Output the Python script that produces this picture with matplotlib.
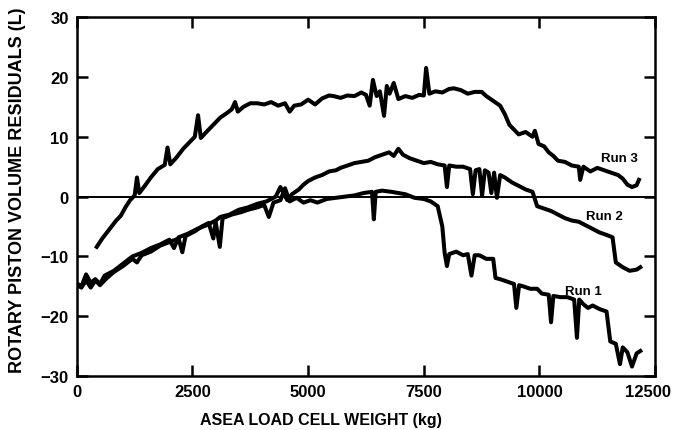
import numpy as np
import matplotlib.pyplot as plt
import matplotlib.transforms as mtransforms

plt.rcParams['font.family'] = ['Liberation Sans', 'DejaVu Sans']
plt.rcParams['font.weight'] = 'bold'

# Run 3 (kg, L)
run3_x = [430, 550, 700, 850, 950, 1050, 1150, 1250, 1300, 1350, 1450, 1600, 1750, 1900, 1960, 2020,
          2150, 2300, 2450, 2550, 2620, 2680, 2800, 2950, 3100, 3250, 3350, 3420, 3480, 3600, 3750,
          3900, 4050, 4200, 4350, 4500, 4600, 4700, 4850, 5000, 5150, 5300, 5450, 5550, 5700, 5850,
          6000, 6150, 6250, 6330, 6400, 6480, 6550, 6640, 6700, 6760, 6850, 6950, 7100, 7250, 7400,
          7500, 7550, 7620, 7750, 7900, 8050, 8150, 8300, 8450, 8600, 8750, 8850, 9000, 9150, 9250,
          9350, 9450, 9550, 9700, 9850, 9900, 9980, 10100, 10200, 10300, 10400, 10550, 10700, 10850,
          10880, 10950, 11100, 11250, 11400, 11550, 11700, 11800, 11900, 12000, 12100, 12150]
run3_y = [-8.4, -7.0, -5.5, -4.0, -3.2, -1.8, -0.6, 0.2, 3.2, 0.6, 1.6, 3.2, 4.6, 5.3, 8.2, 5.4,
          6.5, 8.0, 9.2, 10.0, 13.6, 9.8, 10.8, 12.0, 13.2, 14.0, 14.6, 15.8, 14.2, 15.0, 15.6,
          15.6, 15.4, 15.8, 15.2, 15.6, 14.2, 15.2, 15.4, 16.2, 15.4, 16.4, 16.9, 16.8, 16.5, 16.9,
          16.8, 17.4, 17.0, 15.2, 19.5, 16.8, 17.6, 13.5, 18.5, 17.2, 19.0, 16.3, 16.8, 16.5, 17.0,
          16.9, 21.5, 17.2, 17.6, 17.4, 18.0, 18.1, 17.8, 17.2, 17.5, 17.5, 16.8, 16.0, 15.2, 13.8,
          12.0, 11.2, 10.4, 10.8, 10.0, 11.0, 8.8, 8.4, 7.4, 6.8, 6.0, 5.8, 5.2, 5.0,
          2.8, 5.0, 4.2, 4.8, 4.4, 4.0, 3.6, 3.0, 2.0, 1.6, 1.9, 2.8]

# Run 2
run2_x = [0, 100, 200, 300, 400, 500, 600, 800, 1000, 1200, 1400, 1600, 1800, 2000, 2100, 2200,
          2400, 2600, 2800, 3000, 3100, 3300, 3500, 3700, 3900, 4100, 4300, 4400, 4550, 4650, 4800,
          4900, 5000, 5150, 5300, 5450, 5600, 5700, 5850, 6000, 6150, 6300, 6450, 6600, 6750, 6850,
          6950, 7050, 7200, 7350, 7500, 7650, 7800, 7950, 8000, 8050, 8200, 8350, 8500, 8560, 8620,
          8700, 8760, 8820, 8900, 8960, 9020, 9080, 9150, 9250, 9400, 9550, 9700, 9850, 9950, 10100,
          10250, 10400, 10550, 10700, 10850, 11000, 11150, 11300, 11450, 11580, 11650, 11800, 11950,
          12100, 12180]
run2_y = [-14.5, -15.0, -13.0, -14.4, -13.8, -14.6, -13.2, -12.4, -11.2, -10.0, -9.4, -8.6, -8.0, -7.2, -8.6, -6.8,
          -6.2, -5.4, -4.8, -4.0, -3.4, -3.0, -2.2, -1.8, -1.2, -0.8, 0.0, 1.6, -0.6, 0.4, 1.2,
          2.0, 2.6, 3.2, 3.6, 4.2, 4.4, 4.8, 5.2, 5.6, 5.8, 6.0, 6.6, 7.0, 7.4, 6.8,
          8.0, 7.0, 6.4, 6.0, 5.6, 5.8, 5.4, 5.2, 1.6, 5.2, 5.0, 5.0, 4.6, 0.4, 4.4,
          4.6, 0.2, 4.4, 4.0, 0.6, 4.0, -0.2, 3.6, 3.2, 2.4, 1.8, 1.2, 0.8, -1.6, -2.0,
          -2.4, -3.0, -3.6, -4.0, -4.2, -4.8, -5.4, -6.0, -6.4, -6.8, -11.0, -11.8, -12.4,
          -12.2, -11.8]

# Run 1
run1_x = [0, 100, 200, 300, 400, 500, 650, 800, 1000, 1200, 1300, 1400, 1600, 1800, 2000, 2200,
          2280, 2350, 2550, 2700, 2850, 2950, 3000, 3090, 3150, 3350, 3550, 3700, 3900, 4050, 4150,
          4250, 4400, 4500, 4600, 4750, 4900, 5050, 5200, 5400, 5600, 5800, 6000, 6200, 6380, 6420,
          6460, 6600, 6800, 6950, 7100, 7300, 7500, 7650, 7800, 7900, 7950, 8000, 8050, 8200, 8350,
          8450, 8530, 8600, 8700, 8850, 9000, 9050, 9150, 9300, 9450, 9500, 9560, 9650, 9800, 9950,
          10050, 10200, 10250, 10300, 10450, 10600, 10750, 10810, 10860, 10950, 11050, 11150, 11300,
          11450, 11530, 11650, 11740, 11800, 11900, 12000, 12100, 12180]
run1_y = [-14.8, -15.2, -14.0, -15.2, -14.0, -14.8, -13.6, -12.6, -11.6, -10.4, -11.0, -9.8, -9.2, -8.2, -7.6, -7.0,
          -9.3, -6.6, -5.8, -5.0, -4.4, -7.0, -4.2, -8.4, -3.6, -3.0, -2.6, -2.2, -1.8, -1.4, -3.4,
          -1.0, -0.6, 1.4, -0.8, -0.2, -1.0, -0.6, -1.0, -0.4, -0.2, 0.0, 0.2, 0.6, 0.8, -3.8,
          0.8, 1.0, 0.8, 0.6, 0.4, -0.2, -0.4, -0.8, -1.6, -5.0, -9.4, -11.6, -9.6, -9.2, -9.8,
          -9.6, -13.2, -9.8, -9.8, -10.4, -10.4, -13.6, -13.8, -14.2, -14.6, -18.6, -14.8, -15.0, -15.4, -15.4,
          -16.2, -16.4, -21.0, -16.6, -16.8, -16.8, -17.2, -23.6, -17.2, -18.0, -18.6, -18.2, -18.8,
          -19.2, -24.2, -24.6, -28.0, -25.2, -26.0, -28.4, -26.2, -25.8]

fig = plt.figure(figsize=(6.74, 4.31), dpi=100)
ax = fig.add_axes([0.114, 0.125, 0.858, 0.833])

for xs, ys in [(run1_x, run1_y), (run2_x, run2_y), (run3_x, run3_y)]:
    ax.plot(xs, ys, color='black', linewidth=2.9, solid_joinstyle='round')

ax.axhline(0, color='black', linewidth=1.4)

ax.text(11720, 6.4, 'Run 3', fontsize=9.5, fontweight='bold', ha='center', va='center')
ax.text(11400, -3.3, 'Run 2', fontsize=9.5, fontweight='bold', ha='center', va='center')
ax.text(10940, -15.8, 'Run 1', fontsize=9.5, fontweight='bold', ha='center', va='center')

ax.set_xlim(0, 12500)
ax.set_ylim(-30, 30)
ax.set_xticks([0, 2500, 5000, 7500, 10000, 12500])
ax.set_yticks([-30, -20, -10, 0, 10, 20, 30])
ax.tick_params(direction='in', top=True, right=True, length=8, width=1.8,
               labelsize=12, pad=6)
for s in ax.spines.values():
    s.set_linewidth(1.8)

# last x tick label sits a bit left of its tick so it stays inside the figure
last = ax.get_xticklabels()[-1]
last.set_transform(last.get_transform() +
                   mtransforms.ScaledTranslation(-7 / 100, 0, fig.dpi_scale_trans))

ax.set_xlabel('ASEA LOAD CELL WEIGHT (kg)', fontsize=11.5, fontweight='bold')
ax.set_ylabel('ROTARY PISTON VOLUME RESIDUALS (L)', fontsize=13, fontweight='bold')
ax.xaxis.set_label_coords(0.422, -0.1)
ax.yaxis.set_label_coords(-0.088, 0.52)

fig.savefig('out.png', dpi=100)
